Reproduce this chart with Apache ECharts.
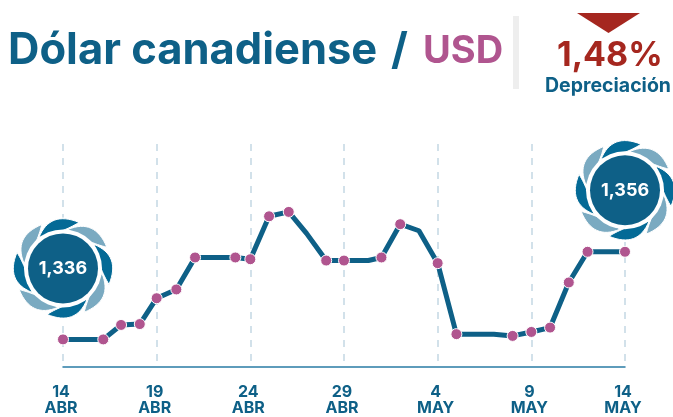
<!DOCTYPE html>
<html lang="es" style="height: 100%">
<head>
    <meta charset="utf-8"/>
</head>
<body style="height: 100%; margin: 0; overflow: hidden; background: #fff">
<div id="container" style="width: 673px; height: 417px"></div>

<script type="text/javascript" src="https://cdn.jsdelivr.net/npm/echarts@6/dist/echarts.min.js"></script>

<script type="text/javascript">
    // days since 14 ABR
    var days = [0, 1, 2.15, 3.1, 4.1, 5, 6.05, 7.05, 8, 9.2, 10, 11, 12.05, 13, 14.05, 15, 16.3, 17, 18, 19, 20, 21, 22, 23, 24, 25, 26, 27, 28, 29, 30];
    var rates = [1.336, 1.336, 1.336, 1.3393, 1.3395, 1.3454, 1.3474, 1.3547, 1.3547, 1.3547, 1.3543, 1.3641, 1.3651, 1.3602, 1.354, 1.354, 1.354, 1.3547, 1.3623, 1.3608, 1.3534, 1.3372, 1.3372, 1.3372, 1.3368, 1.3377, 1.3387, 1.349, 1.356, 1.356, 1.356];
    // points on the line that have no dot
    var noDot = [1, 8, 13, 16, 19, 22, 23, 29];
    var tickLabels = ["14\nABR", "19\nABR", "24\nABR", "29\nABR", "4\nMAY", "9\nMAY", "14\nMAY"];
    var badgeDays = [0, 30];
    var badgeRates = [1.336, 1.356];

    var BLUE = "#0e6087";
    var PETAL_DARK = "#046a96";
    var PETAL_LIGHT = "#7aaac1";
    var PINK = "#b0558f";
    var RED = "#a5271f";
    var FONT = "Inter";

    // how far above its point each badge sits
    var badgeLift = [71, 61.5];

    var myChart = echarts.init(document.getElementById("container"), null, {renderer: "canvas"});

    function bez(p0, c, p1, t) {
        var u = 1 - t;
        return [u * u * p0[0] + 2 * u * t * c[0] + t * t * p1[0], u * u * p0[1] + 2 * u * t * c[1] + t * t * p1[1]];
    }

    // one blade, pointing up, turned by angle around the badge centre
    function petalPoints(cx, cy, angle) {
        var a = [-24, -31], b = [16, -46];
        var outer = [-13, -58], inner = [0, -36];
        var pts = [], i;
        for (i = 0; i <= 16; i++) pts.push(bez(a, outer, b, i / 16));
        for (i = 1; i < 16; i++) pts.push(bez(b, inner, a, i / 16));
        var c = Math.cos(angle), s = Math.sin(angle);
        return pts.map(function (p) {
            return [cx + p[0] * c - p[1] * s, cy + p[0] * s + p[1] * c];
        });
    }

    function renderBadge(params, api) {
        var pos = api.coord([api.value(0), api.value(1)]);
        var cx = pos[0], cy = pos[1] - badgeLift[params.dataIndex];
        var children = [{
            type: "circle",
            shape: {cx: cx, cy: cy, r: 51},
            style: {fill: "#fff"}
        }];
        for (var i = 0; i < 8; i++) {
            children.push({
                type: "polygon",
                shape: {points: petalPoints(cx, cy, i * Math.PI / 4)},
                style: {fill: i % 2 ? PETAL_LIGHT : PETAL_DARK, stroke: "#fff", lineWidth: 1}
            });
        }
        children.push({
            type: "circle",
            shape: {cx: cx, cy: cy, r: 39},
            style: {fill: "#fff"}
        });
        children.push({
            type: "circle",
            shape: {cx: cx, cy: cy, r: 35},
            style: {fill: BLUE}
        });
        children.push({
            type: "text",
            style: {
                x: cx, y: cy,
                text: api.value(1).toFixed(3).replace(".", ","),
                fill: "#fff",
                font: "bold 18px " + FONT,
                align: "center",
                verticalAlign: "middle"
            }
        });
        return {type: "group", children: children};
    }

    var option = {
        animation: false,
        textStyle: {fontFamily: FONT},
        grid: {left: 63, right: 48, top: 144, bottom: 50},
        xAxis: {
            type: "value",
            min: 0,
            max: 30,
            interval: 5,
            axisLine: {show: true, onZero: false, lineStyle: {color: "#2a7ca5", width: 1.5}},
            axisTick: {show: false},
            axisLabel: {
                color: BLUE,
                fontFamily: FONT,
                fontWeight: "bold",
                fontSize: 16,
                lineHeight: 16,
                margin: 17,
                padding: [0, 4, 0, 0],
                formatter: function (v) {
                    return tickLabels[v / 5];
                }
            },
            splitLine: {show: true, lineStyle: {color: "#c3d8e3", width: 1.5, type: [7, 7]}}
        },
        yAxis: {
            type: "value",
            show: false,
            min: 1.3297,
            max: 1.3806,
            splitLine: {show: false}
        },
        series: [
            {
                type: "line",
                data: days.map(function (d, i) {
                    return [d, rates[i]];
                }),
                showAllSymbol: true,
                symbol: "circle",
                symbolSize: function (v, p) {
                    return noDot.indexOf(p.dataIndex) >= 0 ? 0 : 11;
                },
                lineStyle: {color: BLUE, width: 5},
                itemStyle: {color: PINK, borderColor: "#fff", borderWidth: 1},
                clip: false,
                z: 3
            },
            {
                type: "custom",
                data: badgeDays.map(function (d, i) {
                    return [d, badgeRates[i]];
                }),
                renderItem: renderBadge,
                clip: false,
                z: 4
            }
        ],
        graphic: [
            {type: "text", left: 8, top: 29, style: {text: "Dólar canadiense", fill: BLUE, font: "bold 43.5px " + FONT}},
            {type: "text", left: 391, top: 29, style: {text: "/", fill: BLUE, font: "bold 43.5px " + FONT}},
            {type: "text", left: 423, top: 33, style: {text: "USD", fill: PINK, font: "bold 38px " + FONT}},
            {type: "rect", left: 513, top: 16, shape: {width: 6, height: 73}, style: {fill: "#eeeeee"}},
            {type: "polygon", shape: {points: [[577, 13], [640, 13], [608.5, 33]]}, style: {fill: RED}},
            {type: "text", left: 557, top: 39, style: {text: "1,48%", fill: RED, font: "bold 34px " + FONT}},
            {type: "text", left: 545, top: 76, style: {text: "Depreciación", fill: BLUE, font: "bold 19.5px " + FONT}}
        ]
    };

    myChart.setOption(option);
    window.addEventListener("resize", myChart.resize);
</script>
</body>
</html>
